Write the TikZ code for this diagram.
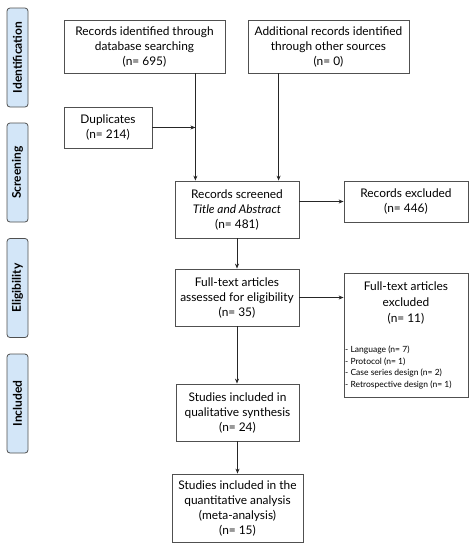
\documentclass[tikz,border=0pt]{standalone}
\usepackage{fontspec}
\setmainfont{Lato}
\usetikzlibrary{arrows.meta,calc}
\definecolor{sideblue}{HTML}{D3E6F8}
\definecolor{edge}{HTML}{505050}
\begin{document}
\begin{tikzpicture}[x=1pt,y=-1pt,
  box/.style={draw=edge, line width=0.8pt, align=center, inner sep=0pt, font=\fontsize{11.9}{15}\selectfont},
  side/.style={draw=edge, fill=sideblue, rounded corners=3pt, line width=0.8pt, rotate=90, inner sep=0pt,
     minimum height=21pt, minimum width=99pt, font=\fontsize{12}{13}\selectfont\bfseries},
  arr/.style={draw=black!85, line width=0.9pt, -{Stealth[length=5pt,width=4pt]}}]
\useasboundingbox (0,0) rectangle (476,550);
% phase labels
\node[side] (sid) at (17.5,57.5) {Identification};
\node[side] (sscr) at (17.5,172.5) {Screening};
\node[side] (sel) at (17.5,288) {Eligibility};
\node[side] (sinc) at (17.5,403.5) {Included};
% boxes
\node[box, minimum width=161pt, minimum height=53pt] (b1) at (144.5,46.5) {Records identified through\\database searching\\(n= 695)};
\node[box, minimum width=161pt, minimum height=53pt] (b2) at (328.5,46.5) {Additional records identified\\through other sources\\(n= 0)};
\node[box, minimum width=88pt, minimum height=41pt] (dup) at (108,127.5) {Duplicates\\(n= 214)};
\node[box, minimum width=124pt, minimum height=57pt] (scr) at (237,209.5) {Records screened\\\textit{Title and Abstract}\\(n= 481)};
\node[box, minimum width=124pt, minimum height=41pt] (exc) at (406,201.5) {Records excluded\\(n= 446)};
\node[box, minimum width=124pt, minimum height=57pt] (ft) at (237,297.5) {Full-text articles\\assessed for eligibility\\(n= 35)};
\node[box, minimum width=124pt, minimum height=124pt] (ftx) at (406,335) {};
\node[align=center, inner sep=0pt, font=\fontsize{11.9}{16}\selectfont, anchor=north] (ftxt) at (406,282) {Full-text articles\\excluded\\(n= 11)};
\node[align=left, inner sep=0pt, font=\fontsize{8.5}{11.4}\selectfont, anchor=west] (ftxl) at (345,367.5) {- Language (n= 7)\\- Protocol (n= 1)\\- Case series design (n= 2)\\- Retrospective design (n= 1)};
\node[box, minimum width=123pt, minimum height=57pt] (qual) at (237.5,412.5) {Studies included in\\qualitative synthesis\\(n= 24)};
\node[box, minimum width=131pt, minimum height=68pt] (quant) at (237.5,508) {Studies included in the\\quantitative analysis\\(meta-analysis)\\(n= 15)};
% connectors
\coordinate (c1) at ($(b1.south east)+(-30,0)$);
\coordinate (c2) at ($(b2.south west)+(31,0)$);
\draw[arr] (c1) -- (c1 |- scr.north);
\draw[arr] (c2) -- (c2 |- scr.north);
\draw[arr] (dup.east) -- (dup.east -| c1);
\draw[arr] (scr.east |- exc.west) -- (exc.west);
\draw[arr] (scr.south) -- (ft.north);
\draw[arr] (ft.east) -- (ft.east -| ftx.west);
\draw[arr] (ft.south) -- (ft.south |- qual.north);
\draw[arr] (qual.south) -- (quant.north);
\end{tikzpicture}
\end{document}
